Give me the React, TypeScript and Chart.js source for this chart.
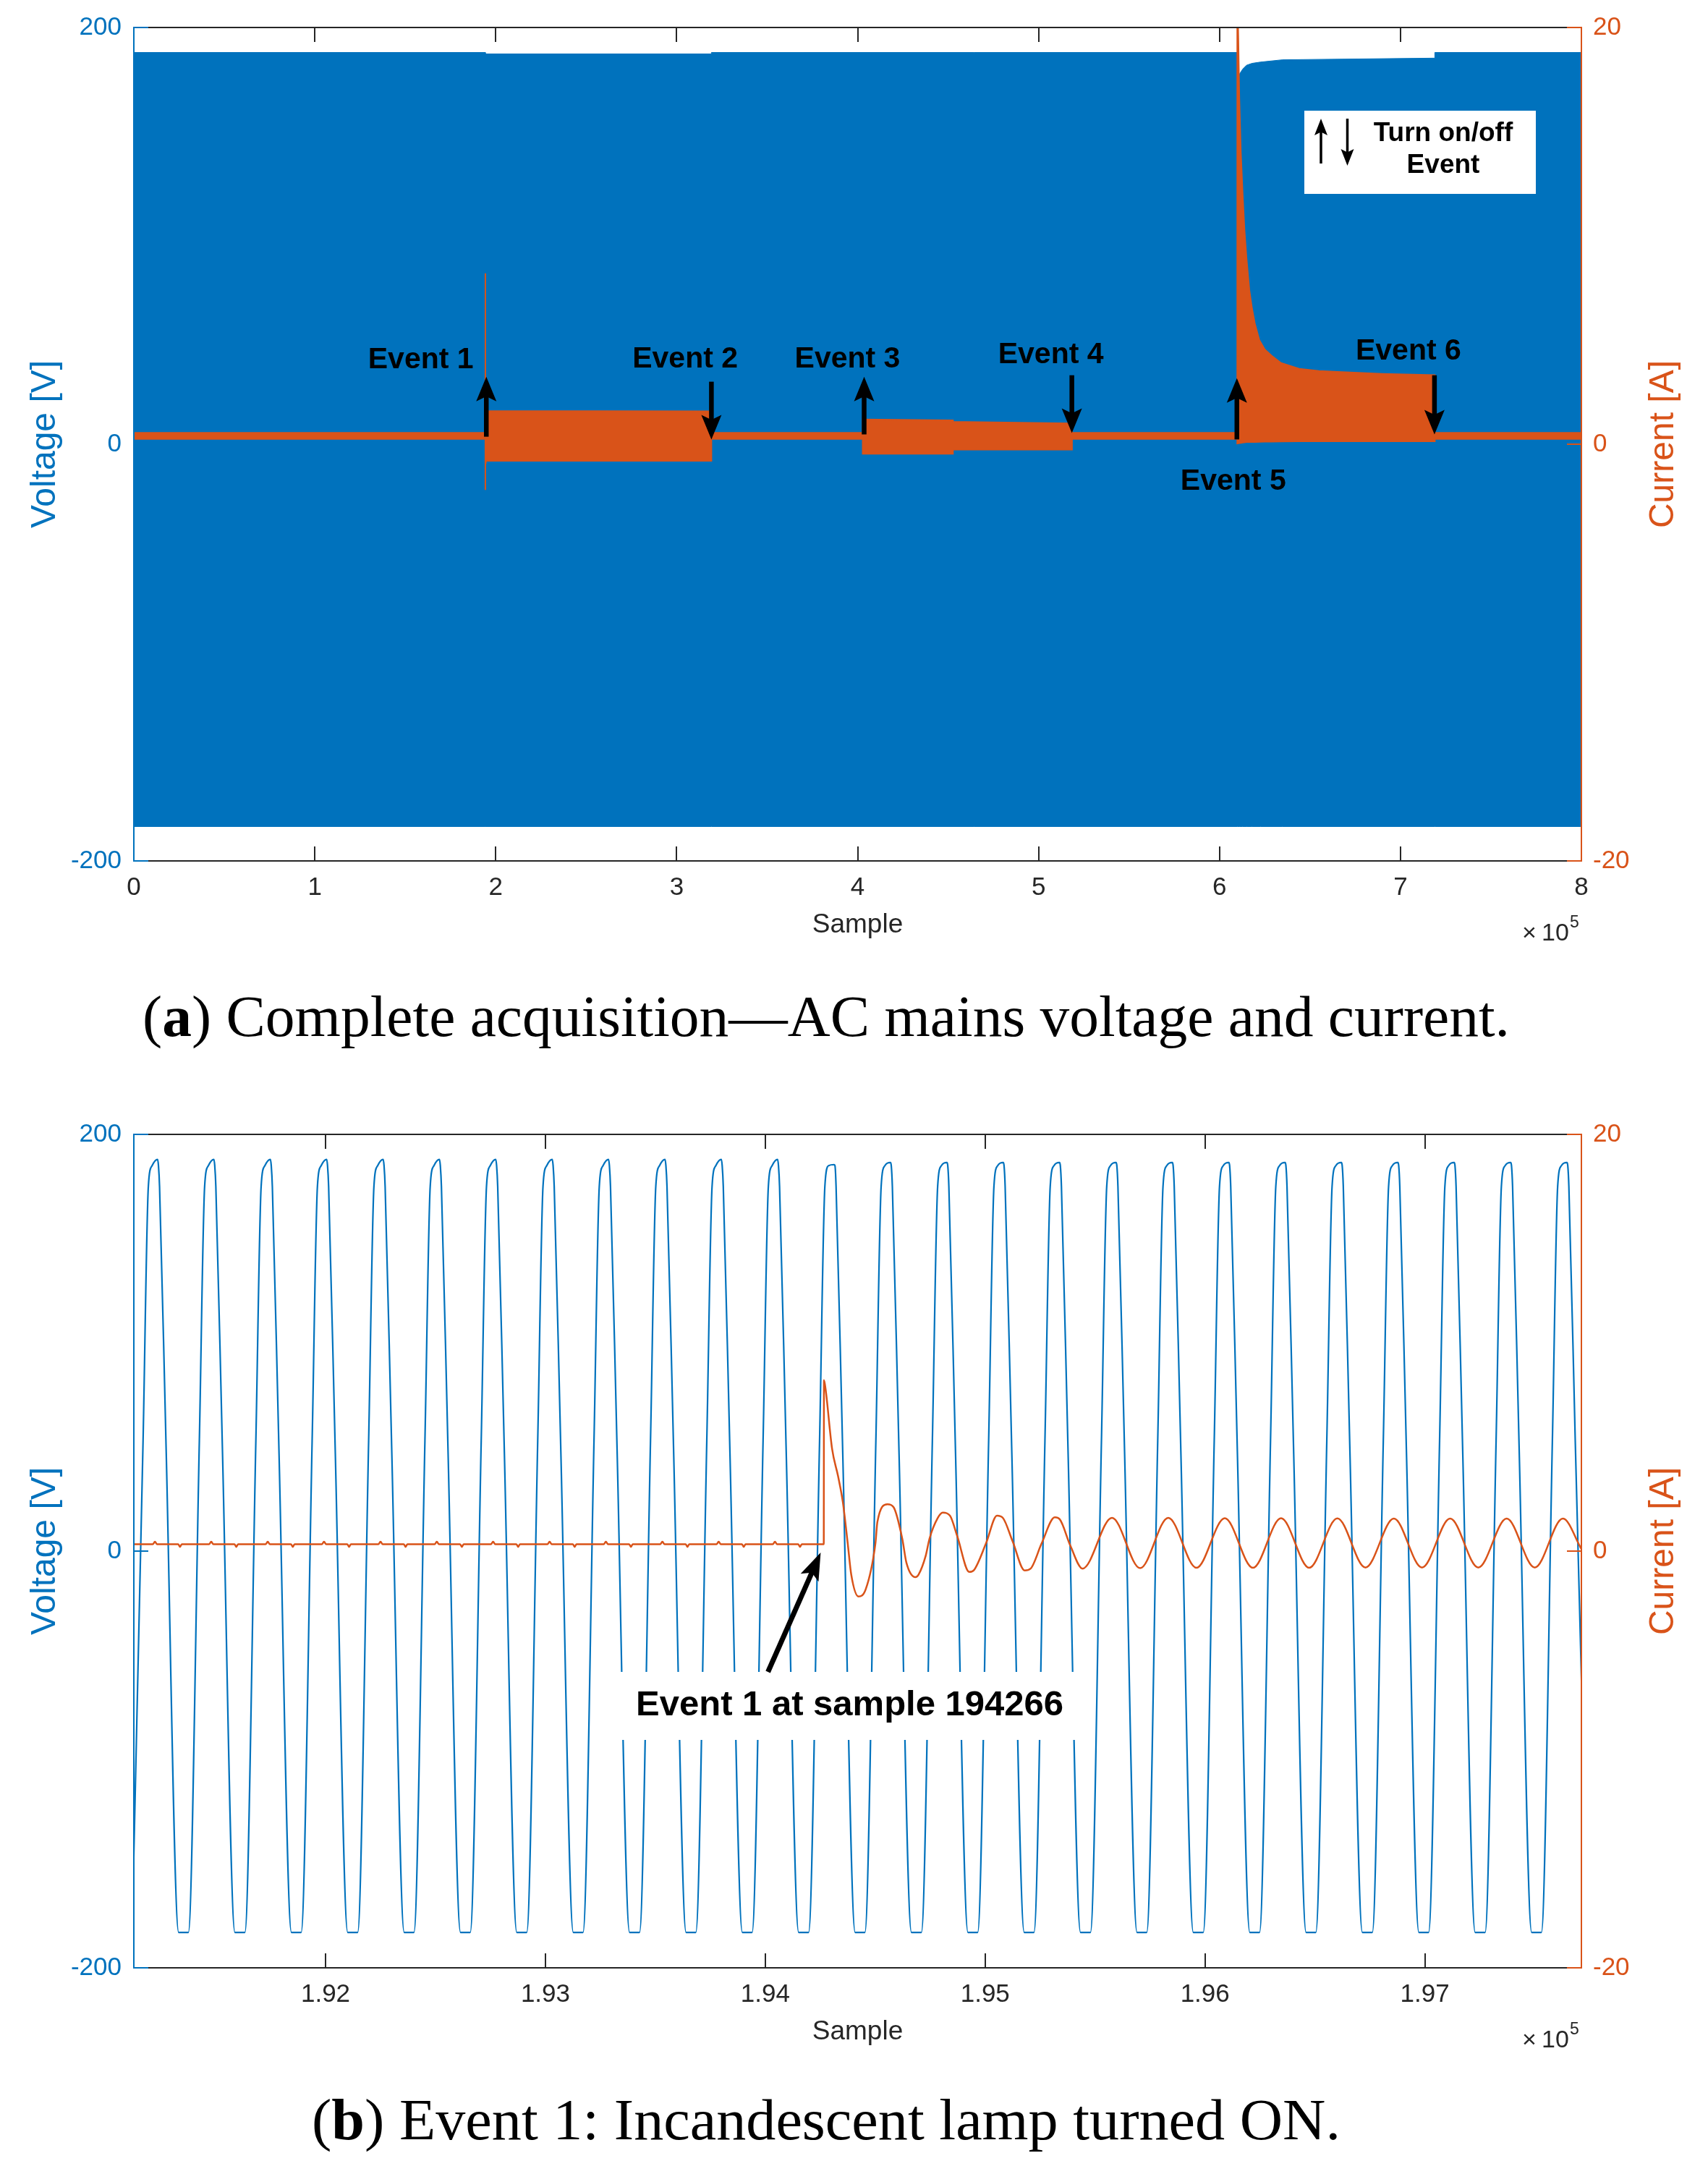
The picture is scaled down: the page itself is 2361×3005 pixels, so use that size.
import React, { useEffect, useRef } from 'react';
import { Chart, registerables } from 'chart.js';

Chart.register(...registerables);

const BLUE = '#0072BD';
const ORANGE = '#D95319';
const AXIS = '#262626';
const SANS = '"Liberation Sans", Arial, Helvetica, sans-serif';
const SERIF = '"Liberation Serif", "Times New Roman", serif';
const PAGE_W = 2361;

// ---------- shared y axes ----------
const voltTicks = [-200, 0, 200];
const voltTickLabels = ['-200', '0', '200'];
const currTicks = [-20, 0, 20];
const currTickLabels = ['-20', '0', '20'];

// ---------- (a) complete acquisition ----------
const fullXTicks = [0, 100000, 200000, 300000, 400000, 500000, 600000, 700000, 800000];
const fullXTickLabels = ['0', '1', '2', '3', '4', '5', '6', '7', '8'];

// voltage envelope (V)
const fullVoltX = [0, 194266, 194266, 319200, 319200, 609800, 609800, 610960, 612800, 614960, 618000, 622600, 634800, 719000, 719000, 800000];
const fullVoltUpper = [188, 188, 187.3, 187.3, 188, 188, 175.5, 177.5, 180, 181.9, 182.8, 183.4, 184.5, 185.3, 188, 188];
const fullVoltLower = [-183.5, -183.5, -183.5, -183.5, -183.5, -183.5, -183.5, -183.5, -183.5, -183.5, -183.5, -183.5, -183.5, -183.5, -183.5, -183.5];

// current envelope (A)
const fullCurrX = [0, 194266, 194266, 194300, 194700, 319200, 319200, 402800, 402800, 452700, 452700, 518500, 518500,
  609800, 609800, 610400, 610960, 611800, 612800, 613800, 614960, 616500, 618000, 619520, 622000, 625000, 628720,
  634000, 644000, 655000, 665440, 690000, 719000, 719000, 800000];
const fullCurrUpper = [0.55, 0.55, 8.2, 2.2, 1.6, 1.58, 0.55, 0.55, 1.19, 1.15, 1.08, 1.0, 0.55,
  0.55, 22, 19.5, 16.6, 14.0, 12.0, 10.3, 8.9, 7.4, 6.5, 5.8, 5.0, 4.55, 4.25,
  3.9, 3.62, 3.52, 3.47, 3.38, 3.32, 0.55, 0.55];
const fullCurrLower = [0.25, 0.25, -2.2, -1.0, -0.8, -0.8, 0.25, 0.25, -0.46, -0.46, -0.26, -0.26, 0.25,
  0.25, 0.03, 0.04, 0.05, 0.06, 0.08, 0.09, 0.1, 0.1, 0.1, 0.1, 0.11, 0.12, 0.12,
  0.13, 0.14, 0.14, 0.14, 0.14, 0.14, 0.25, 0.25];

// event annotations (sample, current units)
const eventNames = ['Event 1', 'Event 2', 'Event 3', 'Event 4', 'Event 5', 'Event 6'];
const eventArrowX = [194800, 319200, 403600, 518400, 609600, 718800];
const eventArrowFrom = [0.36, 3.0, 0.47, 3.31, 0.23, 3.31];
const eventArrowTo = [3.24, 0.23, 3.24, 0.54, 3.17, 0.47];
const eventLabelX = [158600, 304700, 394400, 506800, 607600, 704400];
const eventLabelY = [4.04, 4.09, 4.09, 4.28, -1.8, 4.44];

// ---------- (b) event 1 zoom ----------
const zoomXMin = 191128;
const zoomXMax = 197712;
const zoomXTicks = [192000, 193000, 194000, 195000, 196000, 197000];
const zoomXTickLabels = ['1.92', '1.93', '1.94', '1.95', '1.96', '1.97'];
const event1Sample = 194266;

// voltage peaks read per cycle (sample, V)
const zoomPeakX = [191236, 191492, 191749, 192005, 192262, 192518, 192774, 193031, 193287, 193544, 193800, 194056, 194313,
  194569, 194826, 195082, 195338, 195595, 195851, 196108, 196364, 196620, 196877, 197133, 197390, 197646];
const zoomPeakV = [188, 188, 188, 188, 188, 188, 188, 188, 188, 188, 188, 188, 185.5,
  186.5, 186.5, 186.5, 186.5, 186.5, 186.5, 186.5, 186.5, 186.5, 186.5, 186.5, 186.5, 186.5];
// one cycle of the (clipped, skewed) mains voltage around a peak
const cycleOffsets = [-116, -66, -42, -25, 0, 4, 9, 38, 96];
const cycleVolts = [-183, 53, 175, 185, 0, 185, 175, 53, -183]; // index 4 = apex (from zoomPeakV)

// current before event: small ripple around each cycle
const preBumpOffsets = [-22, -12, -2, 94, 102, 110];
const preBumpAmps = [0.33, 0.45, 0.33, 0.33, 0.2, 0.33];
// inrush transient right after the event
const iTransX = [194266, 194267, 194274, 194304, 194331, 194353, 194375, 194391, 194424, 194457, 194501, 194510, 194556,
  194584, 194623, 194642, 194683, 194697, 194730, 194747, 194785, 194807, 194840, 194873, 194928, 194950, 195004, 195054,
  195081, 195125, 195180, 195207, 195257, 195317, 195339, 195388, 195443];
const iTransY = [0.33, 8.2, 7.8, 4.9, 3.6, 2.34, 0.37, -1.13, -2.18, -1.83, 0.37, 1.41, 2.25,
  2.1, 0.6, -0.56, -1.25, -1.13, -0.21, 0.6, 1.6, 1.85, 1.7, 0.72, -1.0, -0.9, 0.37, 1.7,
  1.59, 0.47, -0.93, -0.84, 0.37, 1.62, 1.53, 0.25, -0.84];
// steady-state lamp current
const iPeakX = [195577, 195833, 196090, 196346, 196602, 196859, 197115, 197372, 197628];
const iPeakY = [1.6, 1.6, 1.58, 1.58, 1.57, 1.56, 1.56, 1.56, 1.56];
const iTroughX = [195705, 195961, 196218, 196474, 196730, 196987, 197243, 197500];
const iTroughY = [-0.82, -0.8, -0.8, -0.8, -0.79, -0.79, -0.79, -0.79];
const iEndY = 0.1;

const noteText = 'Event 1 at sample 194266';
const noteTextX = 194384;
const noteTextV = -74.3;
const noteTipX = 194252;
const noteTipI = -0.07;

type Pt = { x: number; y: number };
const zip = (xs: number[], ys: number[]): Pt[] => xs.map((x, i) => ({ x, y: ys[i] }));

function zoomVoltagePoints(): Pt[] {
  const pts: Pt[] = [];
  zoomPeakX.forEach((p, k) => {
    cycleOffsets.forEach((o, j) => {
      pts.push({ x: p + o, y: j === 4 ? zoomPeakV[k] : cycleVolts[j] });
    });
  });
  return pts;
}

function zoomCurrentPoints(): Pt[] {
  const pts: Pt[] = [{ x: zoomXMin, y: 0.33 }];
  zoomPeakX.filter((p) => p < event1Sample).forEach((p) => {
    preBumpOffsets.forEach((o, j) => pts.push({ x: p + o, y: preBumpAmps[j] }));
  });
  iTransX.forEach((x, i) => pts.push({ x, y: iTransY[i] }));
  iPeakX.forEach((p, k) => {
    pts.push({ x: p, y: iPeakY[k] });
    if (k < iTroughX.length) pts.push({ x: iTroughX[k], y: iTroughY[k] });
  });
  pts.push({ x: zoomXMax, y: iEndY });
  return pts;
}

// ---------- drawing helpers ----------
function arrow(ctx: CanvasRenderingContext2D, x1: number, y1: number, x2: number, y2: number,
  shaft: number, headLen: number, headW: number, color: string) {
  const ang = Math.atan2(y2 - y1, x2 - x1);
  const c = Math.cos(ang), s = Math.sin(ang);
  const bx = x2 - headLen * c, by = y2 - headLen * s;
  ctx.save();
  ctx.strokeStyle = color;
  ctx.fillStyle = color;
  ctx.lineWidth = shaft;
  ctx.lineCap = 'butt';
  ctx.beginPath();
  ctx.moveTo(x1, y1);
  ctx.lineTo(bx + headLen * 0.3 * c, by + headLen * 0.3 * s);
  ctx.stroke();
  const px = -s, py = c;
  ctx.beginPath();
  ctx.moveTo(x2, y2);
  ctx.lineTo(bx + (px * headW) / 2, by + (py * headW) / 2);
  ctx.lineTo(bx + headLen * 0.2 * c, by + headLen * 0.2 * s);
  ctx.lineTo(bx - (px * headW) / 2, by - (py * headW) / 2);
  ctx.closePath();
  ctx.fill();
  ctx.restore();
}

function drawFrame(chart: any, xTicks: number[]) {
  const { ctx, chartArea: a, scales } = chart;
  const TL = 20;
  const seg = (x1: number, y1: number, x2: number, y2: number) => {
    ctx.beginPath();
    ctx.moveTo(x1, y1);
    ctx.lineTo(x2, y2);
    ctx.stroke();
  };
  ctx.save();
  ctx.lineWidth = 2;
  ctx.lineCap = 'butt';
  ctx.strokeStyle = AXIS;
  seg(a.left, a.top, a.right, a.top);
  seg(a.left, a.bottom, a.right, a.bottom);
  xTicks.forEach((v) => {
    const px = Math.round(scales.x.getPixelForValue(v));
    seg(px, a.bottom, px, a.bottom - TL);
    seg(px, a.top, px, a.top + TL);
  });
  ctx.strokeStyle = BLUE;
  seg(a.left, a.top - 1, a.left, a.bottom + 1);
  voltTicks.forEach((v) => {
    const py = scales.y.getPixelForValue(v);
    seg(a.left, py, a.left + TL, py);
  });
  ctx.strokeStyle = ORANGE;
  seg(a.right, a.top - 1, a.right, a.bottom + 1);
  currTicks.forEach((v) => {
    const py = scales.y1.getPixelForValue(v);
    seg(a.right - TL, py, a.right, py);
  });
  ctx.restore();
}

function drawTitles(chart: any) {
  const { ctx, chartArea: a } = chart;
  const cy = (a.top + a.bottom) / 2;
  ctx.save();
  ctx.textAlign = 'center';
  ctx.textBaseline = 'middle';
  ctx.font = `48px ${SANS}`;
  ctx.fillStyle = BLUE;
  ctx.save();
  ctx.translate(63, cy);
  ctx.rotate(-Math.PI / 2);
  ctx.fillText('Voltage [V]', 0, 0);
  ctx.restore();
  ctx.fillStyle = ORANGE;
  ctx.save();
  ctx.translate(2300, cy);
  ctx.rotate(-Math.PI / 2);
  ctx.fillText('Current [A]', 0, 0);
  ctx.restore();
  ctx.fillStyle = AXIS;
  ctx.font = `37px ${SANS}`;
  ctx.fillText('Sample', (a.left + a.right) / 2, a.bottom + 89);
  // x 10^5 exponent
  ctx.textAlign = 'left';
  ctx.textBaseline = 'alphabetic';
  ctx.font = `34px ${SANS}`;
  ctx.fillText('\u00d7', a.right - 82, a.bottom + 110);
  ctx.font = `34px ${SANS}`;
  ctx.fillText('10', a.right - 55, a.bottom + 110);
  ctx.font = `23px ${SANS}`;
  ctx.fillText('5', a.right - 16, a.bottom + 92);
  ctx.restore();
}

function drawCaption(ctx: CanvasRenderingContext2D, letter: string, rest: string, cx: number, baseline: number, targetW: number) {
  const size = 80;
  const fN = `${size}px ${SERIF}`;
  const fB = `bold ${size}px ${SERIF}`;
  ctx.save();
  ctx.font = fN;
  const w1 = ctx.measureText('(').width;
  ctx.font = fB;
  const w2 = ctx.measureText(letter).width;
  ctx.font = fN;
  const w3 = ctx.measureText(') ' + rest).width;
  const sx = targetW / (w1 + w2 + w3);
  ctx.translate(cx - targetW / 2, baseline);
  ctx.scale(sx, 1);
  ctx.fillStyle = '#000';
  ctx.textAlign = 'left';
  ctx.textBaseline = 'alphabetic';
  ctx.font = fN;
  ctx.fillText('(', 0, 0);
  ctx.font = fB;
  ctx.fillText(letter, w1, 0);
  ctx.font = fN;
  ctx.fillText(') ' + rest, w1 + w2, 0);
  ctx.restore();
}

function annotateFull(chart: any) {
  const { ctx, chartArea: a, scales } = chart;
  const xs = scales.x, y1 = scales.y1;
  ctx.save();
  ctx.fillStyle = '#000';
  ctx.textAlign = 'center';
  ctx.textBaseline = 'middle';
  ctx.font = `bold 41px ${SANS}`;
  eventNames.forEach((name, i) => {
    const ax = xs.getPixelForValue(eventArrowX[i]);
    arrow(ctx, ax, y1.getPixelForValue(eventArrowFrom[i]), ax, y1.getPixelForValue(eventArrowTo[i]), 6.5, 34, 28, '#000');
    ctx.fillText(name, xs.getPixelForValue(eventLabelX[i]), y1.getPixelForValue(eventLabelY[i]));
  });
  // legend box
  const bl = a.right - 383, bt = a.top + 115;
  ctx.fillStyle = '#fff';
  ctx.fillRect(bl, bt, 320, 115);
  arrow(ctx, bl + 23, bt + 73, bl + 23, bt + 11, 3.5, 23, 18, '#000');
  arrow(ctx, bl + 59.5, bt + 11, bl + 59.5, bt + 76, 3.5, 23, 18, '#000');
  ctx.fillStyle = '#000';
  ctx.font = `bold 37px ${SANS}`;
  ctx.fillText('Turn on/off', bl + 192, bt + 32);
  ctx.fillText('Event', bl + 192, bt + 76);
  ctx.restore();
}

function annotateZoom(chart: any) {
  const { ctx, scales } = chart;
  const tx = scales.x.getPixelForValue(noteTextX);
  const ty = scales.y.getPixelForValue(noteTextV);
  ctx.save();
  ctx.font = `bold 49px ${SANS}`;
  const tw = ctx.measureText(noteText).width;
  const boxT = ty - 47;
  ctx.fillStyle = '#fff';
  ctx.fillRect(tx - tw / 2 - 30, boxT, tw + 60, 94);
  ctx.fillStyle = '#000';
  ctx.textAlign = 'center';
  ctx.textBaseline = 'middle';
  ctx.fillText(noteText, tx, ty);
  arrow(ctx, tx - 113, boxT, scales.x.getPixelForValue(noteTipX), scales.y1.getPixelForValue(noteTipI), 7, 38, 27, '#000');
  ctx.restore();
}

function makeConfig(opts: {
  datasets: any[]; xMin: number; xMax: number; xTicks: number[]; xLabels: string[];
  padTop: number; xAxisH: number; annotate: (c: any) => void;
  caption: { letter: string; rest: string; baseline: number; width: number };
}): any {
  const tickFont = { family: SANS, size: 35 };
  const plugin = {
    id: 'matlabFrame',
    afterDatasetsDraw(chart: any) {
      drawFrame(chart, opts.xTicks);
    },
    afterDraw(chart: any) {
      drawTitles(chart);
      opts.annotate(chart);
      drawCaption(chart.ctx, opts.caption.letter, opts.caption.rest, 1142, opts.caption.baseline, opts.caption.width);
    },
  };
  return {
    type: 'line',
    data: { datasets: opts.datasets },
    plugins: [plugin],
    options: {
      animation: false,
      responsive: false,
      maintainAspectRatio: false,
      devicePixelRatio: 1,
      events: [],
      layout: { padding: { top: opts.padTop, left: 0, right: 0, bottom: 0 } },
      plugins: { legend: { display: false }, tooltip: { enabled: false }, title: { display: false } },
      elements: { point: { radius: 0 } },
      scales: {
        x: {
          type: 'linear',
          position: 'bottom',
          min: opts.xMin,
          max: opts.xMax,
          grid: { display: false, drawTicks: false },
          border: { display: false },
          afterBuildTicks: (s: any) => { s.ticks = opts.xTicks.map((v) => ({ value: v })); },
          afterFit: (s: any) => { s.height = opts.xAxisH; },
          ticks: {
            autoSkip: false, maxRotation: 0, minRotation: 0, padding: 16, color: AXIS, font: tickFont,
            callback: (_v: any, i: number) => opts.xLabels[i],
          },
        },
        y: {
          type: 'linear',
          position: 'left',
          min: -200,
          max: 200,
          grid: { display: false, drawTicks: false },
          border: { display: false },
          afterBuildTicks: (s: any) => { s.ticks = voltTicks.map((v) => ({ value: v })); },
          afterFit: (s: any) => { s.width = 185; },
          ticks: { padding: 17, color: BLUE, font: tickFont, callback: (_v: any, i: number) => voltTickLabels[i] },
        },
        y1: {
          type: 'linear',
          position: 'right',
          min: -20,
          max: 20,
          grid: { display: false, drawTicks: false },
          border: { display: false },
          afterBuildTicks: (s: any) => { s.ticks = currTicks.map((v) => ({ value: v })); },
          afterFit: (s: any) => { s.width = PAGE_W - 2186; },
          ticks: { padding: 16, color: ORANGE, font: tickFont, callback: (_v: any, i: number) => currTickLabels[i] },
        },
      },
    },
  };
}

export default function App() {
  const refA = useRef<HTMLCanvasElement | null>(null);
  const refB = useRef<HTMLCanvasElement | null>(null);

  useEffect(() => {
    if (!refA.current || !refB.current) return;
    const band = (data: Pt[], color: string, axis: string, fill: any, order: number, bw: number) => ({
      data, yAxisID: axis, borderColor: color, backgroundColor: color, borderWidth: bw,
      pointRadius: 0, fill, order, tension: 0,
    });
    const chartA = new Chart(refA.current, makeConfig({
      datasets: [
        band(zip(fullCurrX, fullCurrUpper), ORANGE, 'y1', '+1', 0, 2),
        band(zip(fullCurrX, fullCurrLower), ORANGE, 'y1', false, 0, 2),
        band(zip(fullVoltX, fullVoltUpper), BLUE, 'y', '+1', 1, 1),
        band(zip(fullVoltX, fullVoltLower), BLUE, 'y', false, 1, 1),
      ],
      xMin: 0, xMax: 800000, xTicks: fullXTicks, xLabels: fullXTickLabels,
      padTop: 37, xAxisH: 310, annotate: annotateFull,
      caption: { letter: 'a', rest: 'Complete acquisition\u2014AC mains voltage and current.', baseline: 1432, width: 1890 },
    }));
    const chartB = new Chart(refB.current, makeConfig({
      datasets: [
        {
          data: zoomCurrentPoints(), yAxisID: 'y1', borderColor: ORANGE, borderWidth: 2.5, pointRadius: 0,
          fill: false, order: 0, cubicInterpolationMode: 'monotone',
        },
        {
          data: zoomVoltagePoints(), yAxisID: 'y', borderColor: BLUE, borderWidth: 2.2, pointRadius: 0,
          fill: false, order: 1, cubicInterpolationMode: 'monotone',
        },
      ],
      xMin: zoomXMin, xMax: zoomXMax, xTicks: zoomXTicks, xLabels: zoomXTickLabels,
      padTop: 68, xAxisH: 285, annotate: annotateZoom,
      caption: { letter: 'b', rest: 'Event 1: Incandescent lamp turned ON.', baseline: 1457, width: 1422 },
    }));
    return () => {
      chartA.destroy();
      chartB.destroy();
    };
  }, []);

  return (
    <div style={{ position: 'absolute', left: 0, top: 0, width: PAGE_W, height: 3005, background: '#fff' }}>
      <canvas ref={refA} width={PAGE_W} height={1500}
        style={{ position: 'absolute', left: 0, top: 0, width: PAGE_W, height: 1500 }} />
      <canvas ref={refB} width={PAGE_W} height={1505}
        style={{ position: 'absolute', left: 0, top: 1500, width: PAGE_W, height: 1505 }} />
    </div>
  );
}
